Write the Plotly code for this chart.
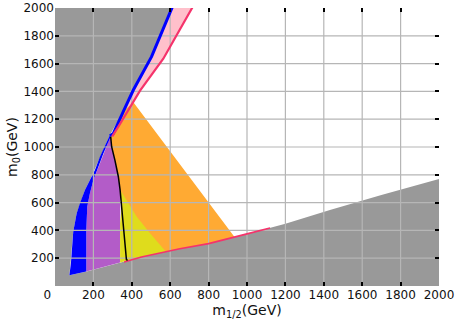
"""mSUGRA (m1/2, m0) 평면 허용 영역 차트."""

import plotly.graph_objects as go

_FONT = dict(family="DejaVu Sans, sans-serif", size=12, color="#111111")

GRAY = "#999999"
BLUE = "#0000ff"
PINK = "#ffc0cb"
RED = "#f5336b"
ORANGE = "#ffaa33"
PURPLE = "#b35cc8"
YELLOW = "#dfdc1c"
GRID = "#b6b6b6"

TICKS = list(range(0, 2001, 200))

# lower (stau LSP) boundary of the allowed wedge
BOT_X = [75, 165, 300, 450, 650, 800, 1000, 1200, 1432, 1700, 2000]
BOT_Y = [78, 105, 155, 208, 268, 305, 375, 448, 547, 655, 770]

# left edge of the blue strip (upper-left excluded region boundary)
BLUE_L_X = [75, 83, 95, 113, 130, 156, 182, 208, 234, 260, 286]
BLUE_L_Y = [78, 165, 390, 523, 595, 691, 763, 834, 930, 1002, 1086]
# right edge of the blue strip, top to bottom
BLUE_R_X = [290, 278, 252, 226, 200, 182, 168, 163, 163]
BLUE_R_Y = [1074, 1038, 954, 858, 763, 667, 571, 400, 105]

# thin blue line and red line going up to the top
BLINE_X = [286, 304, 358, 408, 503, 612]
BLINE_Y = [1080, 1098, 1262, 1410, 1650, 2010]
RLINE_X = [298, 330, 443, 564, 718]
RLINE_Y = [1076, 1146, 1405, 1635, 2010]

# red line along the lower boundary
RBOT_X = [360, 450, 650, 800, 1000, 1120]
RBOT_Y = [172, 208, 268, 305, 375, 418]

# black contour
BLACK_X = [290, 295, 312, 330, 339, 347, 356, 365, 370, 372, 378]
BLACK_Y = [1074, 1002, 906, 786, 691, 571, 451, 331, 259, 190, 184]

# orange region corners
ORANGE_TOP = (410, 1318)
ORANGE_BL = (358, 1262)
ORANGE_CORNER = (935, 352)

# yellow region hypotenuse
YEL_X = [345, 425, 495, 578]
YEL_Y = [680, 500, 380, 246]


def poly(fig, xs, ys, color):
    fig.add_trace(go.Scatter(
        x=xs, y=ys, mode="lines", fill="toself", fillcolor=color,
        line=dict(width=0, color=color), hoverinfo="skip", showlegend=False,
    ))


def line(fig, xs, ys, color, width):
    fig.add_trace(go.Scatter(
        x=xs, y=ys, mode="lines", line=dict(color=color, width=width),
        hoverinfo="skip", showlegend=False,
    ))


fig = go.Figure()

# excluded regions (everything outside the wedge)
gx = [0, 0] + BLINE_X[::-1][:4] + BLUE_L_X[::-1] + BOT_X + [2000]
gy = [0, 2000] + BLINE_Y[::-1][:4] + BLUE_L_Y[::-1] + BOT_Y + [0]
poly(fig, gx, gy, GRAY)

# pink strip between blue and red lines
poly(fig, BLINE_X + RLINE_X[::-1], BLINE_Y + RLINE_Y[::-1], PINK)

# orange region
ox = [BLINE_X[1], ORANGE_BL[0], ORANGE_TOP[0], ORANGE_CORNER[0], 800, 650, 450] + BLACK_X[::-1]
oy = [BLINE_Y[1], ORANGE_BL[1], ORANGE_TOP[1], ORANGE_CORNER[1], 305, 268, 208] + BLACK_Y[::-1]
poly(fig, ox, oy, ORANGE)

# purple region
px_ = BLUE_R_X[::-1] + BLACK_X[1:5] + [340, 339, 300]
py_ = BLUE_R_Y[::-1] + BLACK_Y[1:5] + [600, 169, 155]
poly(fig, px_, py_, PURPLE)

# yellow region
yx = YEL_X + [450, 339, 339, 347]
yy = YEL_Y + [208, 169, 450, 571]
poly(fig, yx, yy, YELLOW)

# blue strip
poly(fig, BLUE_L_X + BLUE_R_X, BLUE_L_Y + BLUE_R_Y, BLUE)

# grid drawn over the filled regions
grid_x, grid_y = [], []
for t in TICKS[1:-1]:
    grid_x += [t, t, None, 0, 2000, None]
    grid_y += [0, 2000, None, t, t, None]
line(fig, grid_x, grid_y, GRID, 1.2)

line(fig, BLINE_X, BLINE_Y, BLUE, 3)
line(fig, RLINE_X, RLINE_Y, RED, 2.2)
line(fig, RBOT_X, RBOT_Y, RED, 1.6)
line(fig, BLACK_X, BLACK_Y, "black", 1.5)

axis = dict(
    range=[0, 2000], showgrid=False, zeroline=False, showline=False,
    ticks="inside", ticklen=4, tickwidth=1.5, tickcolor="black",
    mirror="ticks", tickfont=_FONT, automargin=False,
)
x_text = [str(t) for t in TICKS]
x_text[0] = "0" + "&nbsp;" * 4  # origin label sits left of the corner
fig.update_xaxes(
    **axis, tickvals=TICKS, ticktext=x_text,
    title=dict(text="m<sub>1/2</sub>(GeV)", font=dict(size=14), standoff=2),
)
fig.update_yaxes(
    **axis, tickvals=TICKS, ticktext=[""] + [str(t) for t in TICKS[1:]],
    title=dict(text="m<sub>0</sub>(GeV)", font=dict(size=14), standoff=2),
)
fig.update_layout(
    width=458, height=332,
    margin=dict(l=55, r=19, t=8, b=46),
    paper_bgcolor="white", plot_bgcolor="white",
    font=_FONT, showlegend=False,
)

# drop the browser's default 8px body margin so the figure sits at the page corner
fig.write_html(
    "out.html",
    config={"displayModeBar": False},
    post_script="document.body.style.margin = '0';",
)
